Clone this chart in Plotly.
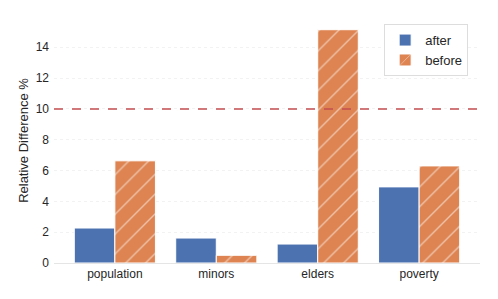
import plotly.graph_objects as go

categories = ["population", "minors", "elders", "poverty"]
after = [2.27, 1.62, 1.23, 4.94]
before = [6.63, 0.50, 15.14, 6.30]
threshold = 10
y_ticks = [0, 2, 4, 6, 8, 10, 12, 14]

fig = go.Figure()
fig.add_trace(go.Bar(
    x=categories, y=after, name="after",
    marker=dict(color="#4C72B0", line=dict(color="white", width=1)),
))
fig.add_trace(go.Bar(
    x=categories, y=before, name="before",
    marker=dict(color="#DD8452", line=dict(color="white", width=1),
                pattern=dict(shape="/", fgcolor="white", size=14, solidity=0.1)),
))
fig.add_hline(y=threshold, line=dict(color="#C44E52", dash="dash", width=1.5))

font = "Liberation Sans, Arial, sans-serif"
fig.update_layout(
    width=490, height=291,
    margin=dict(l=46, r=18, t=10, b=36, autoexpand=False),
    plot_bgcolor="white", paper_bgcolor="white",
    barmode="group", bargap=0.2, bargroupgap=0.0,
    font=dict(family=font, size=12, color="#262626"),
    legend=dict(x=0.775, y=0.975, xanchor="left", yanchor="top",
                bordercolor="#DDDDDD", borderwidth=1, bgcolor="white",
                font=dict(size=13), tracegroupgap=0),
    xaxis=dict(showgrid=False, showline=True, linecolor="#E5E5E5", linewidth=1,
               ticks="", range=[-0.6, 3.6], tickfont=dict(size=12), automargin=False),
    yaxis=dict(range=[0, 15.9], tickvals=y_ticks, showgrid=True,
               gridcolor="#F2F2F2", griddash="dot", zeroline=False,
               ticks="", tickfont=dict(size=12), automargin=False,
               ticklabelstandoff=4,
               title=dict(text="Relative Difference %", font=dict(size=13), standoff=4)),
)
fig.write_html("out.html")
